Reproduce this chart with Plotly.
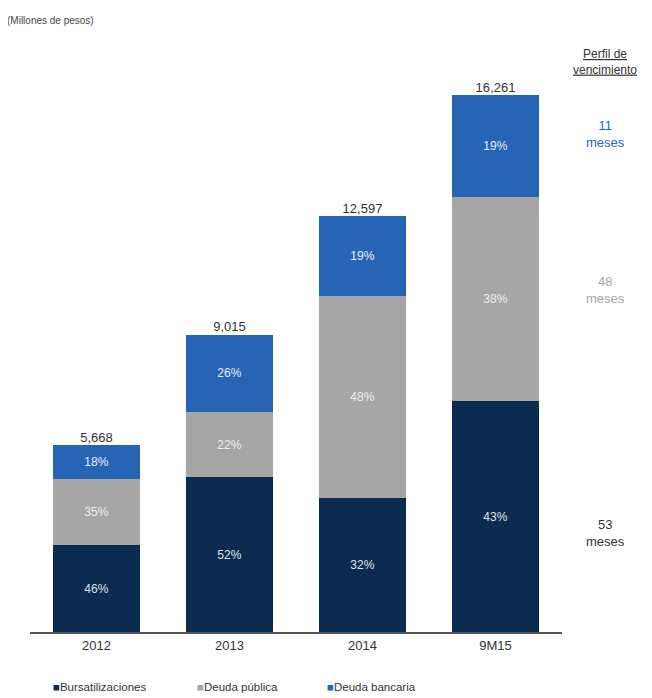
import plotly.graph_objects as go

categories = ["2012", "2013", "2014", "9M15"]
totals = [5668, 9015, 12597, 16261]
total_labels = ["5,668", "9,015", "12,597", "16,261"]
pct_bursat = [46, 52, 32, 43]
pct_publica = [35, 22, 48, 38]
pct_bancaria = [18, 26, 19, 19]
series_names = ["Bursatilizaciones", "Deuda pública", "Deuda bancaria"]
colors = ["#0c2b50", "#a6a6a6", "#2864b6"]
text_colors = ["#dfe6ee", "#eeeeee", "#e8eef7"]
perfil_labels = ["11<br>meses", "48<br>meses", "53<br>meses"]

pcts = [pct_bursat, pct_publica, pct_bancaria]
sums = [sum(p[i] for p in pcts) for i in range(len(categories))]

fig = go.Figure()
for name, pct, col, tcol in zip(series_names, pcts, colors, text_colors):
    vals = [totals[i] * pct[i] / sums[i] for i in range(len(categories))]
    fig.add_trace(go.Bar(
        x=categories, y=vals, name=name,
        marker=dict(color=col, line=dict(width=0)),
        text=[f"{v}%" for v in pct], textposition="inside",
        insidetextanchor="middle", textangle=0,
        textfont=dict(size=12, color=tcol, family="Liberation Sans, Arial"),
        hoverinfo="skip", showlegend=False,
    ))

fig.add_trace(go.Scatter(
    x=categories, y=totals, mode="text", text=total_labels,
    textposition="top center", showlegend=False,
    textfont=dict(size=13, color="#333333", family="Liberation Sans, Arial"),
    hoverinfo="skip",
))

fig.update_layout(
    barmode="stack", bargap=0.34,
    width=644, height=690,
    margin=dict(l=22, r=90, t=30, b=66, autoexpand=False),
    plot_bgcolor="white", paper_bgcolor="white",
    font=dict(family="Liberation Sans, Arial", color="#333333"),
    showlegend=False,
    uniformtext=dict(minsize=12, mode="show"),
)
fig.update_xaxes(showline=True, linecolor="#555555", linewidth=2, ticks="",
                 tickfont=dict(size=13, color="#333333"), showgrid=False)
fig.update_yaxes(range=[0, 18000], visible=False, showgrid=False)

fig.add_annotation(text="(Millones de pesos)", xref="paper", yref="paper",
                   x=-0.047, y=1.03, xanchor="left", yanchor="middle",
                   showarrow=False, font=dict(size=10, color="#444444"))
fig.add_annotation(text="Perfil de<br>vencimiento", xref="paper", yref="paper",
                   x=1.081, y=0.96, xanchor="center", yanchor="middle",
                   showarrow=False,
                   font=dict(size=12, color="#333333", lineposition="under"))
perfil_y = [0.838, 0.576, 0.1667]
perfil_colors = ["#2864b6", "#a6a6a6", "#333333"]
for lab, yy, c in zip(perfil_labels, perfil_y, perfil_colors):
    fig.add_annotation(text=lab, xref="paper", yref="paper", x=1.081, y=yy,
                       xanchor="center", yanchor="middle", showarrow=False,
                       font=dict(size=13, color=c))

# manual legend
legend_x = [0.04, 0.31, 0.555]
for name, col, lx in zip(series_names, colors, legend_x):
    fig.add_annotation(
        text=f"<span style='color:{col}'>■</span>{name}",
        xref="paper", yref="paper", x=lx, y=-0.0926,
        xanchor="left", yanchor="middle", showarrow=False,
        font=dict(size=11.5, color="#333333"))

fig.write_html("out.html")
